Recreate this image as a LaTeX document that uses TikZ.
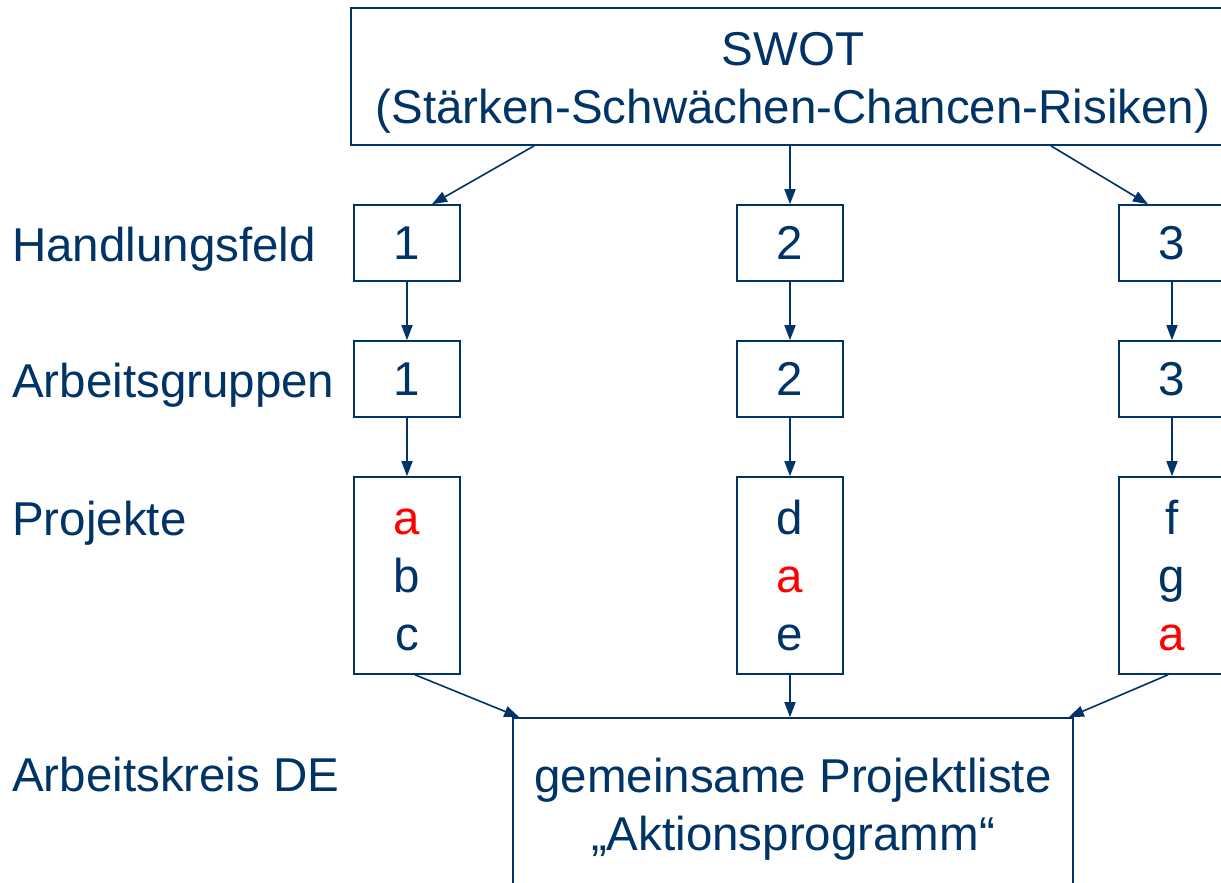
\documentclass[tikz,border=0pt]{standalone}
\usepackage{fontspec}
\setmainfont{Liberation Sans}
\usetikzlibrary{arrows.meta}
\definecolor{dblue}{RGB}{0,51,102}
\definecolor{pred}{RGB}{255,0,0}
\newcommand\lnstrut{\rule[-14pt]{0pt}{58pt}}
\newcommand\firststrut{\rule[-14pt]{0pt}{62pt}}
\newcommand\deepstrut{\rule[-20pt]{0pt}{64pt}}
\newcommand\topstrut{\rule[-14pt]{0pt}{64pt}}
\tikzset{
  every node/.style={text=dblue, font=\fontsize{47.5}{58}\selectfont},
  boxnode/.style={draw=dblue, line width=1.6pt, inner sep=0pt, align=center},
  smallbox/.style={boxnode, minimum width=106pt, minimum height=76pt},
  projbox/.style={boxnode, minimum width=106pt, minimum height=197pt},
  rowlabel/.style={anchor=base west, inner sep=0pt},
  arr/.style={draw=dblue, line width=1.6pt, -{Triangle[length=15pt,width=11pt]}}
}
\begin{document}
\begin{tikzpicture}[x=1pt,y=-1pt]
\useasboundingbox (0,0) rectangle (1221,883);
\clip (0,0) rectangle (1221,883);
\fill[white] (0,0) rectangle (1221,883);

\node[boxnode, minimum width=884pt, minimum height=137pt] (swot) at (793,76.5)
  {\topstrut SWOT\\\lnstrut(Stärken-Schwächen-Chancen-Risiken)};

\node[smallbox] (h1) at (407,243) {1};
\node[smallbox] (h2) at (790,243) {2};
\node[smallbox] (h3) at (1172,243) {3};

\node[smallbox] (g1) at (407,379) {1};
\node[smallbox] (g2) at (790,379) {2};
\node[smallbox] (g3) at (1172,379) {3};

\node[projbox] (p1) at (407,575.5) {\firststrut\textcolor{pred}{a}\\\lnstrut b\\\lnstrut c};
\node[projbox] (p2) at (790,575.5) {\firststrut d\\\lnstrut\textcolor{pred}{a}\\\lnstrut e};
\node[projbox] (p3) at (1172,575.5) {\firststrut f\\\lnstrut g\\\lnstrut\textcolor{pred}{a}};

\node[boxnode, minimum width=560pt, minimum height=182pt] (ak) at (793,809)
  {\lnstrut gemeinsame Projektliste\\\deepstrut „Aktionsprogramm“};

\node[rowlabel] (l1) at (12,261) {Handlungsfeld};
\node[rowlabel] (l2) at (12,397) {Arbeitsgruppen};
\node[rowlabel] (l3) at (12,535) {Projekte};
\node[rowlabel] (l4) at (12,791) {Arbeitskreis DE};

\draw[arr] ([xshift=184pt]swot.south west) -- ([xshift=25pt]h1.north);
\draw[arr] (swot.south -| h2.north) -- (h2.north);
\draw[arr] ([xshift=-185pt]swot.south east) -- ([xshift=-24pt]h3.north);

\draw[arr] (h1) -- (g1);
\draw[arr] (h2) -- (g2);
\draw[arr] (h3) -- (g3);
\draw[arr] (g1) -- (p1);
\draw[arr] (g2) -- (p2);
\draw[arr] (g3) -- (p3);

\draw[arr] ([xshift=8pt]p1.south) -- ([xshift=7pt]ak.north west);
\draw[arr] (p2.south) -- (p2.south |- ak.north);
\draw[arr] ([xshift=-4pt]p3.south) -- ([xshift=-5pt]ak.north east);
\end{tikzpicture}
\end{document}
